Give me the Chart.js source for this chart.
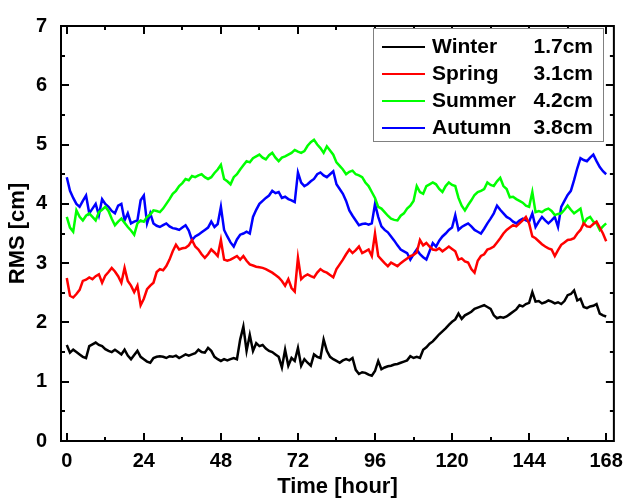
<!DOCTYPE html>
<html>
<head>
<meta charset="utf-8">
<script src="https://cdn.jsdelivr.net/npm/chart.js@4.4.0/dist/chart.umd.min.js"></script>
<style>
  html, body { margin: 0; padding: 0; background: #fff; }
  #wrap { width: 631px; height: 501px; position: relative; }
</style>
</head>
<body>
<div id="wrap"><canvas id="rmsChart"></canvas></div>
<script>
// === Stunden-Achse (eine Woche, stündlich) ===
const hours = Array.from({ length: 169 }, (_, i) => i);
const xTicks = [0, 24, 48, 72, 96, 120, 144, 168];
const yTicks = [0, 1, 2, 3, 4, 5, 6, 7];

const seasons = ['Winter', 'Spring', 'Summer', 'Autumn'];
const seasonMean = [1.7, 3.1, 4.2, 3.8];
const colors = ['#000000', '#FF0000', '#00FF00', '#0000FF'];

// === RMS-Werte je Jahreszeit [cm] ===
const winter = [
  1.62,1.49,1.54,1.50,1.46,1.42,1.40,1.60,1.63,1.66,1.62,1.60,
  1.55,1.52,1.50,1.54,1.50,1.46,1.54,1.44,1.38,1.45,1.52,1.42,
  1.38,1.34,1.32,1.40,1.42,1.43,1.42,1.40,1.43,1.42,1.44,1.40,
  1.43,1.46,1.44,1.46,1.48,1.54,1.50,1.49,1.57,1.52,1.42,1.38,
  1.35,1.38,1.36,1.38,1.40,1.38,1.71,1.93,1.52,1.79,1.52,1.65,
  1.60,1.62,1.56,1.52,1.50,1.46,1.42,1.24,1.54,1.27,1.40,1.35,
  1.57,1.27,1.38,1.32,1.27,1.46,1.42,1.40,1.71,1.52,1.42,1.38,
  1.35,1.32,1.36,1.38,1.36,1.40,1.20,1.13,1.16,1.15,1.12,1.10,
  1.18,1.35,1.21,1.24,1.26,1.27,1.29,1.30,1.32,1.34,1.36,1.43,
  1.40,1.42,1.40,1.54,1.58,1.64,1.68,1.74,1.80,1.85,1.90,1.96,
  2.01,2.05,2.15,2.06,2.12,2.15,2.18,2.23,2.25,2.27,2.29,2.26,
  2.23,2.12,2.07,2.09,2.08,2.10,2.14,2.18,2.22,2.29,2.27,2.31,
  2.33,2.51,2.35,2.36,2.32,2.34,2.37,2.35,2.32,2.34,2.31,2.36,
  2.46,2.48,2.54,2.37,2.40,2.26,2.24,2.27,2.28,2.31,2.15,2.12,
  2.10
];
const spring = [
  2.75,2.45,2.42,2.48,2.55,2.70,2.72,2.76,2.73,2.78,2.81,2.67,
  2.79,2.85,2.92,2.86,2.78,2.67,2.92,2.70,2.62,2.51,2.62,2.29,
  2.40,2.56,2.62,2.67,2.85,2.90,2.88,2.95,3.06,3.20,3.31,3.23,
  3.25,3.26,3.30,3.39,3.28,3.23,3.15,3.09,3.15,3.23,3.18,3.12,
  3.39,3.06,3.04,3.06,3.09,3.12,3.06,3.12,3.04,2.98,2.96,2.94,
  2.93,2.92,2.90,2.87,2.84,2.80,2.76,2.70,2.62,2.73,2.58,2.52,
  3.09,2.73,2.78,2.81,2.78,2.76,2.84,2.90,2.86,2.84,2.80,2.76,
  2.90,2.98,3.06,3.15,3.23,3.17,3.22,3.28,3.17,3.20,3.23,3.12,
  3.50,3.12,3.06,3.00,2.95,3.01,2.98,2.95,3.00,3.04,3.08,3.12,
  3.14,3.18,3.39,3.30,3.34,3.28,3.23,3.22,3.25,3.20,3.24,3.28,
  3.24,3.20,3.06,3.08,3.03,3.01,2.90,2.84,3.04,3.12,3.15,3.23,
  3.25,3.28,3.35,3.42,3.50,3.56,3.60,3.64,3.62,3.67,3.72,3.78,
  3.67,3.45,3.42,3.37,3.32,3.28,3.25,3.23,3.12,3.22,3.31,3.35,
  3.39,3.40,3.42,3.50,3.56,3.67,3.62,3.61,3.66,3.70,3.60,3.50,
  3.37
];
const summer = [
  3.78,3.60,3.53,3.89,3.78,3.72,3.80,3.84,3.78,3.72,3.86,3.90,
  3.95,3.88,3.75,3.64,3.70,3.75,3.68,3.61,3.55,3.48,3.67,3.72,
  3.70,3.78,3.82,3.89,3.88,3.86,3.92,4.00,4.08,4.17,4.22,4.30,
  4.35,4.42,4.40,4.47,4.45,4.48,4.50,4.45,4.42,4.45,4.52,4.58,
  4.66,4.42,4.38,4.33,4.45,4.50,4.58,4.65,4.72,4.70,4.77,4.80,
  4.83,4.78,4.75,4.82,4.86,4.78,4.72,4.78,4.80,4.83,4.86,4.91,
  4.88,4.86,4.89,4.98,5.04,5.08,5.00,4.94,4.86,4.97,4.90,4.83,
  4.70,4.64,4.58,4.50,4.54,4.56,4.50,4.48,4.45,4.36,4.30,4.20,
  4.10,3.95,3.92,3.86,3.80,3.75,3.73,3.72,3.80,3.84,3.92,3.97,
  4.05,4.30,4.20,4.17,4.30,4.33,4.36,4.33,4.25,4.20,4.30,4.36,
  4.32,4.30,4.10,3.97,3.89,3.98,4.06,4.15,4.20,4.22,4.25,4.36,
  4.32,4.30,4.38,4.44,4.30,4.25,4.11,4.12,4.08,4.05,4.02,3.97,
  3.95,4.20,3.86,3.88,3.86,3.90,3.92,3.88,3.81,3.83,3.84,3.90,
  3.97,3.90,3.84,3.88,3.92,3.67,3.75,3.78,3.70,3.67,3.56,3.62,
  3.67
];
const autumn = [
  4.45,4.22,4.10,4.00,3.95,4.05,4.14,3.84,3.92,4.00,3.81,4.08,
  4.00,3.95,3.88,3.84,3.97,4.00,3.72,3.84,3.67,3.70,3.72,4.06,
  4.14,3.67,3.84,3.67,3.63,3.61,3.64,3.67,3.62,3.59,3.58,3.56,
  3.60,3.64,3.55,3.39,3.45,3.48,3.52,3.56,3.60,3.70,3.61,3.66,
  3.95,3.56,3.45,3.35,3.28,3.40,3.48,3.50,3.53,3.50,3.78,3.90,
  4.00,4.05,4.10,4.14,4.22,4.18,4.20,4.10,4.12,4.08,4.06,4.03,
  4.53,4.36,4.30,4.33,4.38,4.42,4.50,4.53,4.48,4.45,4.50,4.55,
  4.33,4.25,4.17,4.05,3.89,3.80,3.72,3.64,3.66,3.67,3.65,3.67,
  4.00,3.78,3.62,3.56,3.52,3.45,3.38,3.30,3.23,3.20,3.17,3.06,
  3.15,3.23,3.15,3.10,3.06,3.20,3.34,3.28,3.38,3.45,3.50,3.56,
  3.60,3.81,3.56,3.61,3.64,3.67,3.62,3.56,3.53,3.50,3.58,3.67,
  3.75,3.84,3.97,3.90,3.84,3.78,3.75,3.70,3.67,3.72,3.75,3.72,
  3.70,3.84,3.61,3.70,3.78,3.72,3.67,3.72,3.78,3.61,3.95,4.05,
  4.15,4.22,4.40,4.60,4.77,4.74,4.72,4.78,4.83,4.72,4.62,4.55,
  4.50
];
const series = [winter, spring, summer, autumn];

const FONT = "'Liberation Sans', Arial, sans-serif";

// === Rahmen mit Innen-Ticks auf allen vier Seiten ===
const frameTicks = {
  id: 'frameTicks',
  afterDatasetsDraw(chart) {
    const { ctx, chartArea: a, scales: { x, y } } = chart;
    ctx.save();
    ctx.strokeStyle = '#000';
    ctx.lineWidth = 2;
    ctx.strokeRect(a.left, a.top, a.right - a.left, a.bottom - a.top);
    ctx.beginPath();
    for (let v = 0; v <= 168; v += 12) {
      const px = Math.round(x.getPixelForValue(v));
      const len = v % 24 === 0 ? 8 : 4;
      ctx.moveTo(px, a.bottom); ctx.lineTo(px, a.bottom - len);
      ctx.moveTo(px, a.top); ctx.lineTo(px, a.top + len);
    }
    for (let v = 0; v <= 7; v += 0.5) {
      const py = Math.round(y.getPixelForValue(v));
      const len = Number.isInteger(v) ? 8 : 4;
      ctx.moveTo(a.left, py); ctx.lineTo(a.left + len, py);
      ctx.moveTo(a.right, py); ctx.lineTo(a.right - len, py);
    }
    ctx.stroke();
    ctx.restore();
  }
};

// === Legende mit Mittelwerten ===
const meanLegend = {
  id: 'meanLegend',
  afterDraw(chart) {
    const { ctx } = chart;
    const box = { x: 373, y: 28, w: 230, h: 113 };
    ctx.save();
    ctx.fillStyle = '#fff';
    ctx.fillRect(box.x, box.y, box.w, box.h);
    ctx.strokeStyle = '#808080';
    ctx.lineWidth = 1;
    ctx.strokeRect(box.x + 0.5, box.y + 0.5, box.w, box.h);
    ctx.font = 'bold 21px ' + FONT;
    ctx.textBaseline = 'middle';
    chart.data.datasets.forEach((ds, i) => {
      const rowY = box.y + 19 + i * 27;
      ctx.strokeStyle = ds.borderColor;
      ctx.lineWidth = 2;
      ctx.beginPath();
      ctx.moveTo(box.x + 9, rowY);
      ctx.lineTo(box.x + 52, rowY);
      ctx.stroke();
      ctx.fillStyle = '#000';
      ctx.textAlign = 'left';
      ctx.fillText(ds.label, box.x + 59, rowY);
      ctx.textAlign = 'right';
      ctx.fillText(seasonMean[i].toFixed(1) + 'cm', box.x + 220, rowY);
    });
    ctx.restore();
  }
};

new Chart(document.getElementById('rmsChart'), {
  type: 'line',
  data: {
    datasets: seasons.map((name, i) => ({
      label: name,
      data: series[i].map((v, k) => ({ x: hours[k], y: v })),
      borderColor: colors[i],
      backgroundColor: colors[i],
      borderWidth: 2.5,
      pointRadius: 0,
      tension: 0
    }))
  },
  options: {
    responsive: true,
    maintainAspectRatio: false,
    animation: false,
    layout: { padding: { top: 19, right: 10, left: 0, bottom: 0 } },
    plugins: {
      legend: { display: false },
      tooltip: { enabled: false }
    },
    scales: {
      x: {
        type: 'linear',
        min: -1.8,
        max: 170.4,
        afterBuildTicks: s => { s.ticks = xTicks.map(v => ({ value: v })); },
        afterFit: s => { s.height = 60; },
        grid: { display: false, drawTicks: false },
        border: { display: false },
        ticks: {
          padding: 8,
          color: '#000',
          font: { family: FONT, size: 20, weight: 'bold' }
        },
        title: {
          display: true,
          text: 'Time [hour]',
          color: '#000',
          padding: { top: 0, bottom: 1 },
          font: { family: FONT, size: 22, weight: 'bold' }
        }
      },
      y: {
        min: 0,
        max: 7,
        afterBuildTicks: s => { s.ticks = yTicks.map(v => ({ value: v })); },
        afterFit: s => { s.width = 61; },
        grid: { display: false, drawTicks: false },
        border: { display: false },
        ticks: {
          padding: 14,
          color: '#000',
          font: { family: FONT, size: 20, weight: 'bold' }
        },
        title: {
          display: true,
          text: 'RMS [cm]',
          color: '#000',
          padding: { top: 5, bottom: 0 },
          font: { family: FONT, size: 22, weight: 'bold' }
        }
      }
    }
  },
  plugins: [frameTicks, meanLegend]
});
</script>
</body>
</html>
